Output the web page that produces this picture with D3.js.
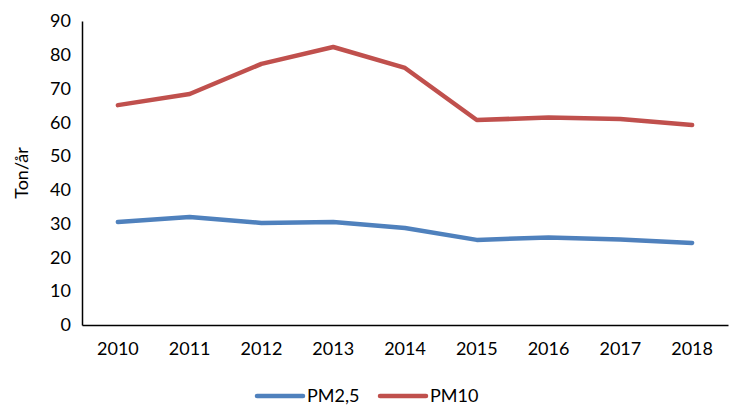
<!DOCTYPE html>
<html>
<head>
<meta charset="utf-8">
<script src="https://cdn.jsdelivr.net/npm/d3@7"></script>
<style>
  body { margin: 0; background: #fff; }
  text { font-family: Lato, "Open Sans", "Noto Sans", sans-serif; fill: #000; }
</style>
</head>
<body>
<script>
// Data
var years = ["2010", "2011", "2012", "2013", "2014", "2015", "2016", "2017", "2018"];
var pm25 = [30.5, 32.0, 30.2, 30.5, 28.7, 25.2, 25.9, 25.3, 24.3];
var pm10 = [65.1, 68.4, 77.3, 82.3, 76.1, 60.7, 61.4, 61.0, 59.2];
var yTicks = [0, 10, 20, 30, 40, 50, 60, 70, 80, 90];

var series = [
    {name: "PM2,5", values: pm25, color: "#4F81BD"},
    {name: "PM10", values: pm10, color: "#C0504D"}
];

var margin = {top: 21, right: 5, bottom: 80, left: 82};
var width = 733 - margin.left - margin.right;
var height = 405 - margin.top - margin.bottom;

var svg = d3.select("body").append("svg")
    .attr("width", 733)
    .attr("height", 405);

var g = svg.append("g")
    .attr("transform", "translate(" + margin.left + "," + margin.top + ")");

var x = d3.scaleBand().domain(years).range([0, width]);
var y = d3.scaleLinear().domain([0, 90]).range([height, 0]);

// y axis
var yAxis = g.append("g")
    .call(d3.axisLeft(y).tickValues(yTicks).tickSize(0).tickPadding(11));
yAxis.select(".domain").attr("stroke", "#000").attr("stroke-width", 1.5);
yAxis.selectAll("text").style("font-size", "18px").attr("font-family", null);

// x axis
var xAxis = g.append("g")
    .attr("transform", "translate(0," + height + ")")
    .call(d3.axisBottom(x).tickSize(0).tickPadding(17));
xAxis.select(".domain").attr("stroke", "#000").attr("stroke-width", 1.5);
xAxis.selectAll("text").style("font-size", "18px").attr("font-family", null);

// y label
svg.append("text")
    .attr("transform", "translate(28," + (margin.top + height / 2) + ") rotate(-90)")
    .attr("text-anchor", "middle")
    .style("font-size", "18px")
    .text("Ton/år");

// lines
var line = d3.line()
    .x(function(d, i) { return x(years[i]) + x.bandwidth() / 2; })
    .y(function(d) { return y(d); });

series.forEach(function(s) {
    g.append("path")
        .datum(s.values)
        .attr("fill", "none")
        .attr("stroke", s.color)
        .attr("stroke-width", 4.5)
        .attr("stroke-linejoin", "round")
        .attr("stroke-linecap", "round")
        .attr("d", line);
});

// legend
var legendX = [257, 380];
series.forEach(function(s, i) {
    var lg = svg.append("g").attr("transform", "translate(" + legendX[i] + ",396)");
    lg.append("line")
        .attr("x1", 0).attr("x2", 46)
        .attr("stroke", s.color)
        .attr("stroke-width", 4.5)
        .attr("stroke-linecap", "round");
    lg.append("text")
        .attr("x", 50)
        .attr("dy", "0.33em")
        .style("font-size", "18px")
        .text(s.name);
});
</script>
</body>
</html>
